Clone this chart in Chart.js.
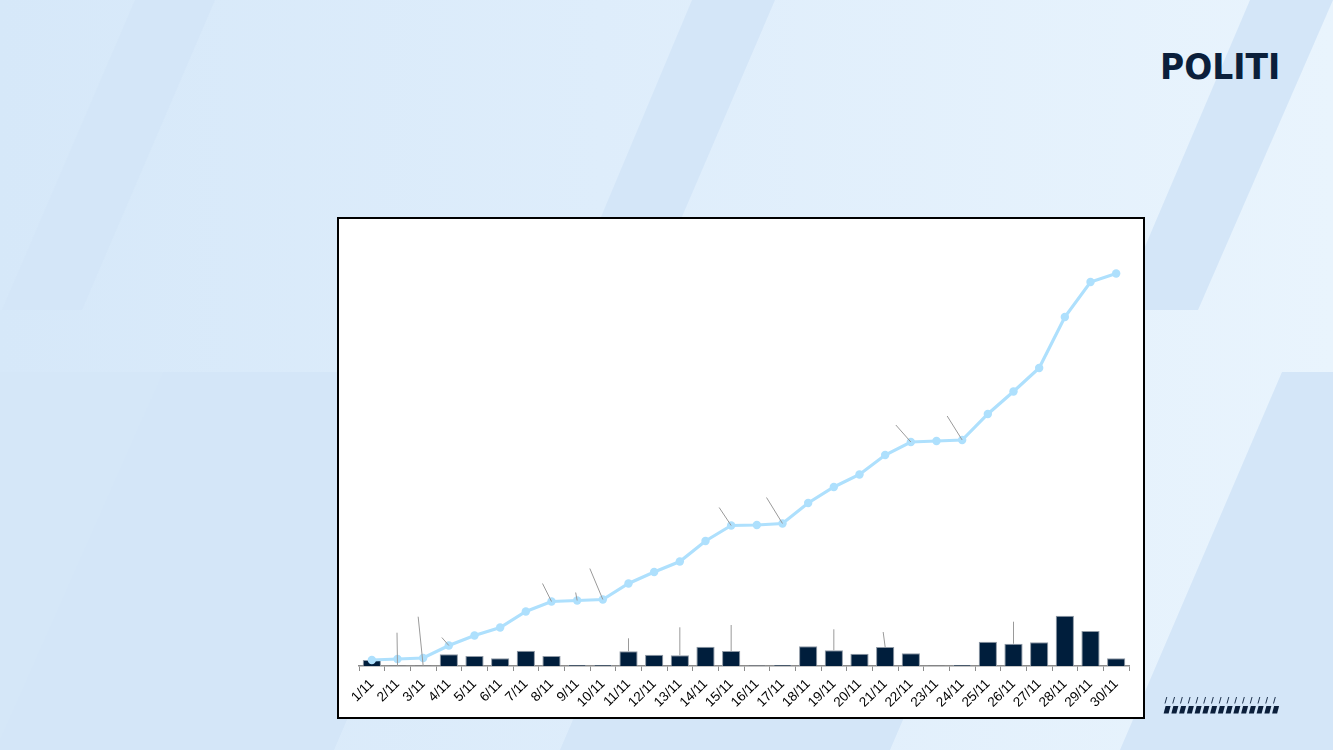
<!DOCTYPE html>
<html>
<head>
<meta charset="utf-8">
<script src="https://cdn.jsdelivr.net/npm/chart.js@4.4.1/dist/chart.umd.min.js"></script>
<style>
  html, body { margin:0; padding:0; }
  body { width:1333px; height:750px; overflow:hidden; position:relative;
         background: linear-gradient(90deg, #d6e8f9 0%, #deedfb 45%, #e9f4fd 100%); font-family:'Liberation Sans', Arial, sans-serif; }
  #bg { position:absolute; left:0; top:0; }
  #logo { position:absolute; left:1160px; top:47px; font-family:'DejaVu Sans', sans-serif; font-weight:bold;
          font-size:33px; color:#0b1f3b; letter-spacing:0px; line-height:40px; transform:scaleY(1.08); transform-origin:left center; }
  #box { position:absolute; left:337px; top:217px; width:808px; height:502px; box-sizing:border-box;
         border:2px solid #000; background:#fff; }
  #wrap { position:absolute; left:0; top:0; width:804px; height:498px; }
  #deco { position:absolute; left:1160px; top:694px; }
</style>
</head>
<body>
<svg id="bg" width="1333" height="750">
  <polygon points="0,372 163,372 0,750" fill="#d5e7f8"/>
  <polygon points="135,0 215,0 82,310 2,310" fill="#d4e6f8"/>
  <polygon points="692,0 775,0 642,310 562,310" fill="#d4e6f8"/>
  <polygon points="1250,0 1333,0 1198,310 1118,310" fill="#d4e6f8"/>
  <polygon points="163,372 496,372 334,750 0,750 0,740" fill="#d4e6f8"/>
  <polygon points="722,372 1052,372 890,750 560,750" fill="#d4e6f8"/>
  <polygon points="1282,372 1333,372 1333,750 1120,750" fill="#d4e6f8"/>
</svg>
<div id="logo">POLITI</div>
<svg id="deco" width="125" height="24"></svg>
<div id="box"><div id="wrap"><canvas id="c" width="804" height="498"></canvas></div></div>
<script>
// ---- data ----
const dayLabels = ['1/11','2/11','3/11','4/11','5/11','6/11','7/11','8/11','9/11','10/11',
  '11/11','12/11','13/11','14/11','15/11','16/11','17/11','18/11','19/11','20/11',
  '21/11','22/11','23/11','24/11','25/11','26/11','27/11','28/11','29/11','30/11'];
const dailyValues = [6,0.3,0.3,11.7,10,7.7,15.3,10,1,1,
  14.7,11.3,10.7,19.3,15,0.5,1,19.7,15.7,12.3,
  19,12.7,0.3,1,24.3,22.3,23.7,50.3,35,7.7];
const cumulativeValues = [6,7,8,20.5,30.5,38.5,54.5,64.5,65.5,66.5,
  82.5,94,104.5,125,140.5,141,142.5,163,179,191.5,
  211,224,225,226,252,274.5,298,349,384,392.5];

// decorative slashes (logo mark)
(function(){
  const svg = document.getElementById('deco');
  let s = '';
  for (let k = 0; k < 15; k++) {
    const x = 5 + k * 7.75;
    s += `<line x1="${x+1.8}" y1="3" x2="${x}" y2="9.5" stroke="#0b1f3b" stroke-width="0.9"/>`;
    s += `<polygon points="${x+0.6},12 ${x+5.6},12 ${x+3.6},19.5 ${x-1.4},19.5" fill="#0b1f3b"/>`;
  }
  svg.innerHTML = s;
})();

// leader-line remnants (decoration, anchored to data elements)
const leaders = [
  {ds:0,i:3,dx:-7,dy:-8},{ds:0,i:7,dx:-9,dy:-18},{ds:0,i:8,dx:-1.5,dy:-8},{ds:0,i:9,dx:-13,dy:-31},
  {ds:0,i:14,dx:-12,dy:-18},{ds:0,i:16,dx:-16,dy:-26},{ds:0,i:21,dx:-15,dy:-17},{ds:0,i:23,dx:-15,dy:-24},
  {ds:1,i:1,dx:-0.5,dy:-33},{ds:1,i:2,dx:-5,dy:-49},{ds:1,i:10,dx:0,dy:-13},{ds:1,i:12,dx:0,dy:-28},
  {ds:1,i:14,dx:0,dy:-26},{ds:1,i:18,dx:0,dy:-21},{ds:1,i:20,dx:-2,dy:-15},{ds:1,i:25,dx:0,dy:-22}
];
const leaderPlugin = {
  id:'leaders',
  afterDatasetsDraw(chart){
    const ctx = chart.ctx;
    ctx.save();
    ctx.strokeStyle = '#9a9a9a';
    ctx.lineWidth = 1;
    leaders.forEach(l => {
      const el = chart.getDatasetMeta(l.ds).data[l.i];
      if (!el) return;
      ctx.beginPath();
      ctx.moveTo(el.x, el.y);
      ctx.lineTo(el.x + l.dx, el.y + l.dy);
      ctx.stroke();
    });
    ctx.restore();
  }
};

new Chart(document.getElementById('c'), {
  data: {
    labels: dayLabels,
    datasets: [
      { type:'line', data: cumulativeValues, order:0,
        borderColor:'#aee0fd', backgroundColor:'#aee0fd', borderWidth:3.2,
        pointRadius:4.2, pointBackgroundColor:'#aee0fd', pointBorderWidth:0, tension:0 },
      { type:'bar', data: dailyValues, order:1,
        backgroundColor:'#001e3c', borderColor:'#8f99a5', borderWidth:{top:1,left:1,right:1,bottom:0},
        categoryPercentage:1.0, barPercentage:0.71 }
    ]
  },
  options: {
    responsive:false, animation:false,
    layout:{ padding:{ left:20, right:14, top:47, bottom:0 } },
    plugins:{ legend:{display:false}, tooltip:{enabled:false} },
    scales:{
      x:{ offset:true,
          grid:{ offset:true, drawOnChartArea:false, drawTicks:true, tickLength:5, color:'#8c8c8c', lineWidth:1 },
          border:{ display:true, color:'#8c8c8c', width:1.5 },
          ticks:{ autoSkip:false, maxRotation:45, minRotation:45, padding:5, color:'#000',
                  font:{ family:'Liberation Sans', size:13.5 } },
          afterFit(s){ s.height = 51; } },
      y:{ display:false, min:0, max:400 }
    }
  },
  plugins:[leaderPlugin]
});
</script>
</body>
</html>
